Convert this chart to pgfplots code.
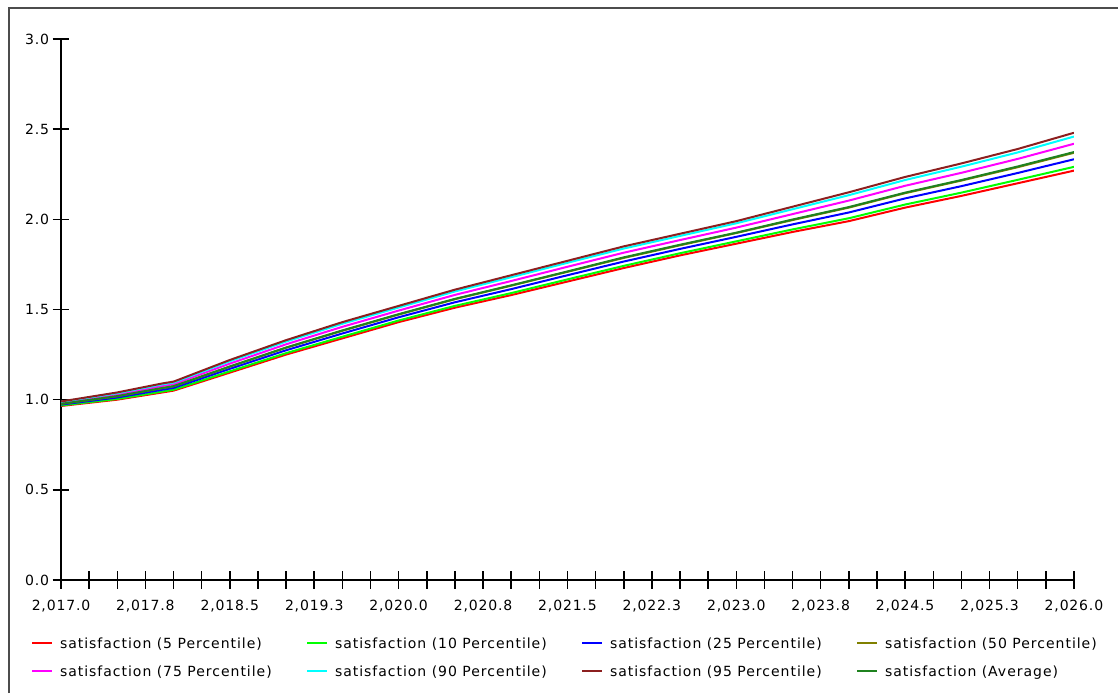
\documentclass[border=0pt]{standalone}
\usepackage{fontspec}
\setmainfont{DejaVu Sans}
\newfontfamily\tickfont[LetterSpace=6]{DejaVu Sans}
\newfontfamily\legfont[LetterSpace=7]{DejaVu Sans}
\usepackage{pgfplots}
\usepackage{pgfplotstable}
\pgfplotsset{compat=1.18}
\definecolor{cA}{rgb}{1,0,0}
\definecolor{cB}{rgb}{0,1,0}
\definecolor{cC}{rgb}{0,0,1}
\definecolor{cD}{rgb}{0.5,0.5,0}
\definecolor{cE}{rgb}{1,0,1}
\definecolor{cF}{rgb}{0,1,1}
\definecolor{cG}{rgb}{0.55,0.12,0.12}
\definecolor{cH}{rgb}{0.12,0.51,0.12}
\newcommand{\legbox}[1]{\makebox[246pt][l]{#1}}
\pgfplotstableread{
x p5 p10 p25 p50 p75 p90 p95 avg
2017.0 0.965 0.968 0.973 0.977 0.983 0.988 0.990 0.977
2017.5 1.000 1.004 1.012 1.019 1.028 1.036 1.040 1.020
2017.9 1.040 1.045 1.055 1.064 1.076 1.085 1.090 1.065
2018.0 1.050 1.055 1.065 1.074 1.086 1.095 1.100 1.075
2018.5 1.150 1.157 1.171 1.183 1.200 1.213 1.220 1.184
2019.0 1.250 1.258 1.274 1.288 1.307 1.322 1.330 1.289
2019.5 1.340 1.349 1.367 1.382 1.404 1.421 1.430 1.384
2020.0 1.430 1.439 1.457 1.472 1.494 1.511 1.520 1.474
2020.5 1.510 1.520 1.540 1.557 1.581 1.600 1.610 1.559
2021.0 1.580 1.591 1.613 1.632 1.658 1.679 1.690 1.634
2021.5 1.655 1.667 1.690 1.709 1.737 1.759 1.770 1.711
2022.0 1.730 1.742 1.766 1.786 1.815 1.838 1.850 1.789
2022.5 1.800 1.812 1.836 1.856 1.885 1.908 1.920 1.859
2023.0 1.865 1.878 1.903 1.924 1.954 1.978 1.990 1.926
2023.5 1.930 1.944 1.972 1.996 2.029 2.056 2.070 1.999
2024.0 1.990 2.006 2.038 2.065 2.104 2.134 2.150 2.068
2024.5 2.065 2.082 2.116 2.145 2.186 2.218 2.235 2.148
2025.0 2.130 2.148 2.184 2.215 2.258 2.292 2.310 2.218
2025.5 2.200 2.219 2.257 2.289 2.335 2.371 2.390 2.293
2026.0 2.270 2.291 2.333 2.369 2.419 2.459 2.480 2.373
}\datatable
\begin{document}
\begin{tikzpicture}[x=1pt,y=1pt]
\useasboundingbox (0,0) rectangle (1118,693);
\draw[line width=2pt, color=black!70] (9,0) -- (9,685) -- (1118,685);
\begin{axis}[
  at={(61pt,113pt)}, anchor=south west,
  scale only axis, width=1013pt, height=541pt,
  xmin=2017, xmax=2026, ymin=0, ymax=3,
  axis lines=left,
  axis line style={-, line width=1.5pt, black},
  xtick={2017,2017.75,2018.5,2019.25,2020,2020.75,2021.5,2022.25,2023,2023.75,2024.5,2025.25,2026},
  xticklabels={{2,017.0},{2,017.8},{2,018.5},{2,019.3},{2,020.0},{2,020.8},{2,021.5},{2,022.3},{2,023.0},{2,023.8},{2,024.5},{2,025.3},{2,026.0}},
  minor xtick={2017.25,2017.5,2018,2018.25,2018.75,2019,2019.5,2019.75,2020.25,2020.5,2021,2021.25,2021.75,2022,2022.5,2022.75,2023.25,2023.5,2024,2024.25,2024.75,2025,2025.5,2025.75},
  ytick={0,0.5,1,1.5,2,2.5,3},
  yticklabels={0.0,0.5,1.0,1.5,2.0,2.5,3.0},
  tick align=center,
  major tick length=17pt, minor tick length=17pt,
  every tick/.style={line width=1.5pt, black},
  minor tick style={line width=1.5pt, black},
  ticklabel style={font=\tickfont\fontsize{14}{16}\selectfont},
  xticklabel style={yshift=-8pt},
  legend columns=4,
  legend cell align=left,
  legend style={draw=none, fill=none, inner sep=0pt, outer sep=0pt,
    at={(-0.0296,-0.1072)}, anchor=north west,
    font=\legfont\fontsize{14}{16}\selectfont,
    row sep=16.5pt,
    nodes={inner xsep=0pt, inner ysep=0pt, text height=11pt, text depth=0pt},
    /tikz/every odd column/.append style={column sep=7pt}},
  legend image code/.code={\draw[#1, line width=2pt] (0pt,0pt) -- (20pt,0pt);},
  every axis plot/.append style={line width=2pt, mark=none},
]
\addplot[cA] table[x=x,y=p5] {\datatable};
\addlegendentry{\legbox{satisfaction (5 Percentile)}}
\addplot[cB] table[x=x,y=p10] {\datatable};
\addlegendentry{\legbox{satisfaction (10 Percentile)}}
\addplot[cC] table[x=x,y=p25] {\datatable};
\addlegendentry{\legbox{satisfaction (25 Percentile)}}
\addplot[cD] table[x=x,y=p50] {\datatable};
\addlegendentry{\legbox{satisfaction (50 Percentile)}}
\addplot[cE] table[x=x,y=p75] {\datatable};
\addlegendentry{\legbox{satisfaction (75 Percentile)}}
\addplot[cF] table[x=x,y=p90] {\datatable};
\addlegendentry{\legbox{satisfaction (90 Percentile)}}
\addplot[cG] table[x=x,y=p95] {\datatable};
\addlegendentry{\legbox{satisfaction (95 Percentile)}}
\addplot[cH] table[x=x,y=avg] {\datatable};
\addlegendentry{\legbox{satisfaction (Average)}}
\end{axis}
\end{tikzpicture}
\end{document}
